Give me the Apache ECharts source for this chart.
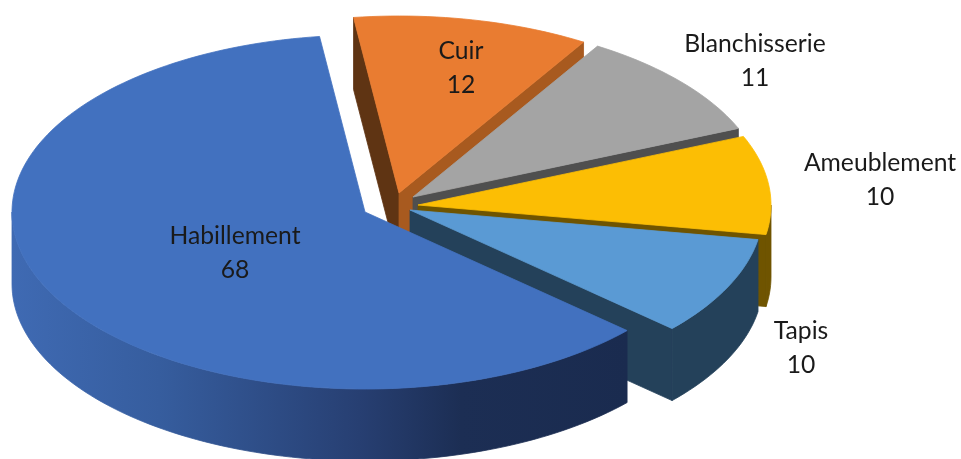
<!DOCTYPE html>
<html>
<head>
<meta charset="utf-8">
<style>
  html, body { margin: 0; padding: 0; background: #fff; }
  #chart { width: 961px; height: 459px; }
</style>
</head>
<body>
<div id="chart"></div>
<script src="https://cdn.jsdelivr.net/npm/echarts@6/dist/echarts.min.js"></script>
<script>
// values, clockwise from the top; back slices first so the front slice paints last
var categories = ['Cuir', 'Blanchisserie', 'Ameublement', 'Tapis', 'Habillement'];
var values = [12, 11, 10, 10, 68];

// pie layout
var startAngle = -7.4;
var rx = 353, ry = 177, depth = 72;
var centers = [[399, 193], [413, 197], [418, 205], [410, 210], [365, 212]];
var labelPos = [[461, 68], [755, 61], [880, 180], [801, 348], [235, 253]];

var topColors = ['#E97C31', '#A4A4A4', '#FCBE04', '#5A9AD4', '#4271BF'];
var startWall = ['#5F3413', '#555555', '#6F5400', '#24415A', '#1A2C55'];
var endWall = ['#A85A1F', '#4F4F4F', '#6F5400', '#24415A', '#1A2C55'];
var outerWall = [null, null, '#6F5400', '#24415A', 'blue'];

var total = values.reduce(function (a, b) { return a + b; }, 0);

function pt(c, deg, dy) {
  var r = deg * Math.PI / 180;
  return [c[0] + rx * Math.sin(r), c[1] - ry * Math.cos(r) + (dy || 0)];
}

function arcPoints(c, a0, a1, dy) {
  var pts = [];
  var n = Math.max(2, Math.ceil(Math.abs(a1 - a0) / 1.5));
  for (var i = 0; i <= n; i++) {
    pts.push(pt(c, a0 + (a1 - a0) * i / n, dy));
  }
  return pts;
}

function poly(points, fill) {
  return { type: 'polygon', shape: { points: points }, style: { fill: fill, stroke: fill, lineWidth: 0.8 } };
}

function renderItem(params, api) {
  var i = params.dataIndex;
  var before = 0;
  for (var k = 0; k < i; k++) before += values[k];
  var a0 = startAngle + before / total * 360;
  var a1 = a0 + api.value(0) / total * 360;
  var c = centers[i];
  var cLow = [c[0], c[1] + depth];
  var children = [];

  // radial walls, only the ones that face the viewer
  if (Math.sin(a0 * Math.PI / 180) < 0) {
    children.push(poly([c, pt(c, a0), pt(c, a0, depth), cLow], startWall[i]));
  }
  if (Math.sin(a1 * Math.PI / 180) > 0) {
    children.push(poly([c, pt(c, a1), pt(c, a1, depth), cLow], endWall[i]));
  }

  // outer wall, front half of the ellipse only
  var from = Math.max(a0, 90), to = Math.min(a1, 270);
  if (to > from) {
    var fill = outerWall[i];
    if (fill === 'blue') {
      fill = new echarts.graphic.LinearGradient(0, 0, 1, 0, [
        { offset: 0, color: '#3F6AB3' },
        { offset: 0.24, color: '#365D9E' },
        { offset: 0.565, color: '#273F72' },
        { offset: 0.73, color: '#1C2E54' },
        { offset: 1, color: '#1A2B4F' }
      ]);
    }
    children.push(poly(arcPoints(c, from, to, 0).concat(arcPoints(c, to, from, depth)), fill));
  }

  // top face
  children.push(poly([c].concat(arcPoints(c, a0, a1, 0)), topColors[i]));

  // label
  children.push({
    type: 'text',
    z2: 10,
    style: {
      x: labelPos[i][0],
      y: labelPos[i][1],
      text: api.value(1) + '\n' + api.value(0),
      align: 'center',
      verticalAlign: 'middle',
      fontFamily: 'Lato',
      fontSize: 24.7,
      lineHeight: 34,
      fill: '#1a1a1a'
    }
  });

  return { type: 'group', children: children };
}

var chart = echarts.init(document.getElementById('chart'));
chart.setOption({
  animation: false,
  backgroundColor: '#fff',
  series: [{
    type: 'custom',
    coordinateSystem: 'none',
    renderItem: renderItem,
    silent: true,
    dimensions: ['value', 'name'],
    encode: { value: 0 },
    data: categories.map(function (name, i) { return [values[i], name]; })
  }]
});
</script>
</body>
</html>
